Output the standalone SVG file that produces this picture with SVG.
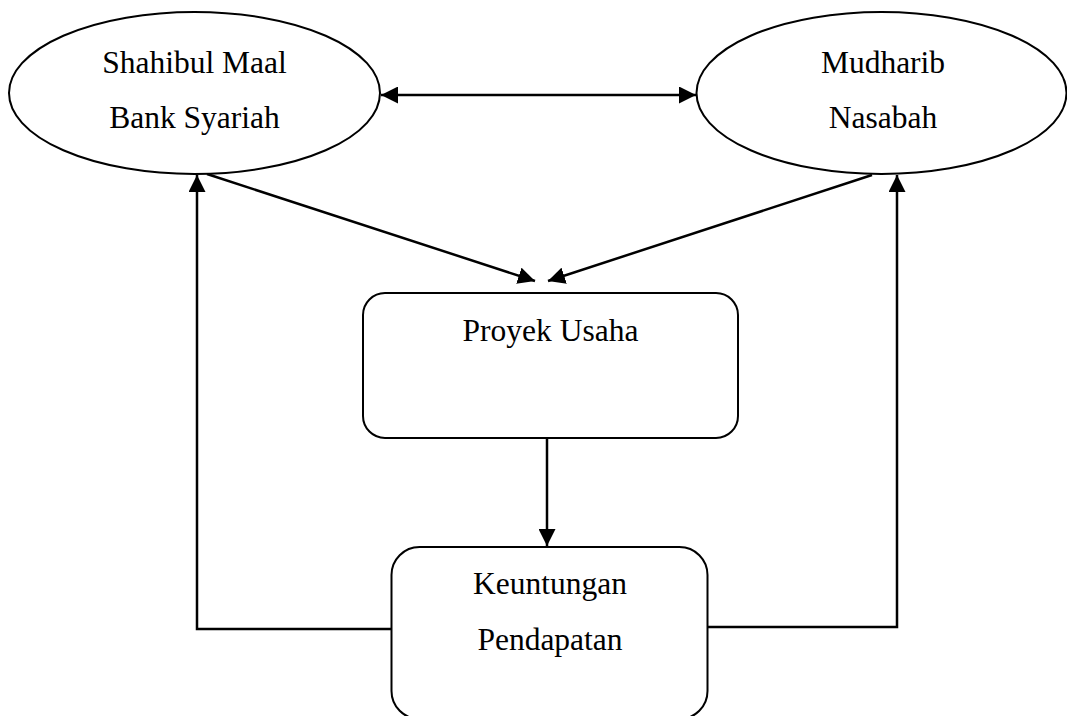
<svg xmlns="http://www.w3.org/2000/svg" width="1067" height="716" viewBox="0 0 1067 716">
<defs>
<style>
.shape{fill:#fff;stroke:#000;stroke-width:2}
.line{fill:none;stroke:#000;stroke-width:2.5}
.lbl{font-family:"Liberation Serif","Times New Roman",serif;font-size:31.5px;fill:#000;text-anchor:middle}
</style>
<marker id="ah" viewBox="0 0 16 16" refX="16" refY="8" markerWidth="17" markerHeight="17" markerUnits="userSpaceOnUse" orient="auto-start-reverse">
<path d="M0,0 L16,8 L0,16 Z" fill="#000"/>
</marker>
</defs>
<rect width="1067" height="716" fill="#fff"/>
<g id="connectors">
<line class="line" x1="381" y1="95" x2="696" y2="95" marker-start="url(#ah)" marker-end="url(#ah)"/>
<line class="line" x1="207" y1="174" x2="535" y2="281" marker-end="url(#ah)"/>
<line class="line" x1="872" y1="175" x2="548" y2="281" marker-end="url(#ah)"/>
<line class="line" x1="547" y1="438" x2="547" y2="546" marker-end="url(#ah)"/>
<polyline class="line" points="391,629 197,629 197,175" marker-end="url(#ah)"/>
<polyline class="line" points="708,627 897,627 897,175" marker-end="url(#ah)"/>
</g>
<g id="shahibul">
<ellipse class="shape" cx="194.5" cy="93" rx="185.5" ry="81"/>
<text class="lbl" x="194.5" y="73">Shahibul Maal</text>
<text class="lbl" x="194.5" y="128">Bank Syariah</text>
</g>
<g id="mudharib">
<ellipse class="shape" cx="881.5" cy="93" rx="185" ry="81"/>
<text class="lbl" x="883" y="73">Mudharib</text>
<text class="lbl" x="883" y="128">Nasabah</text>
</g>
<g id="proyek">
<rect class="shape" x="363" y="293" width="375" height="145" rx="22" ry="22"/>
<text class="lbl" x="550.5" y="341">Proyek Usaha</text>
</g>
<g id="keuntungan">
<rect class="shape" x="391.5" y="547" width="316" height="172" rx="28" ry="28"/>
<text class="lbl" x="550" y="594">Keuntungan</text>
<text class="lbl" x="550" y="650">Pendapatan</text>
</g>
</svg>
